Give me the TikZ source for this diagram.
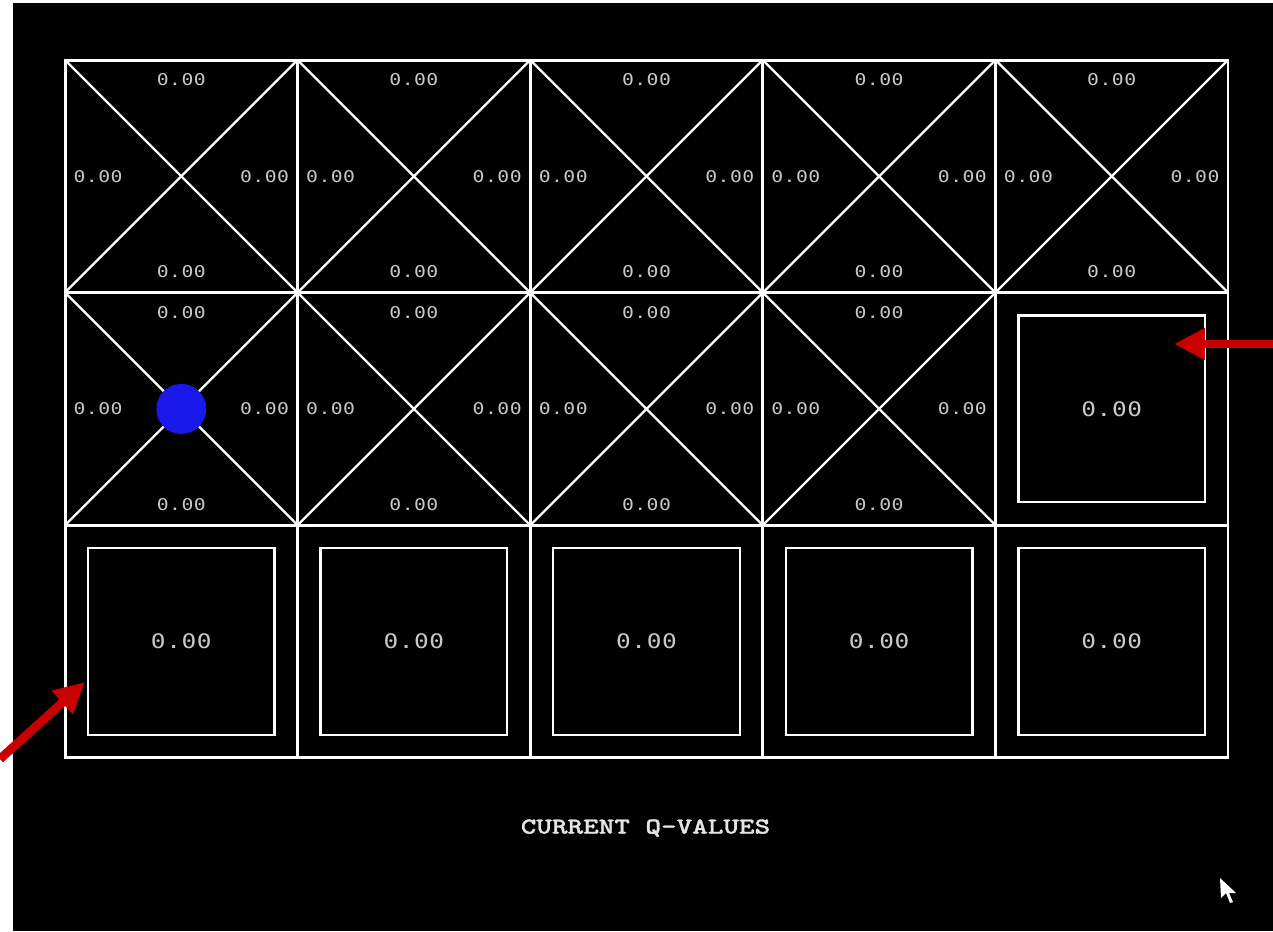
\documentclass[tikz,border=0pt]{standalone}
\usepackage{fontspec}
\usetikzlibrary{arrows.meta}
\newfontfamily\valfont[FakeStretch=1.22,LetterSpace=3]{DejaVu Sans Mono}
\newfontfamily\titrefont[Extension=.otf,FakeStretch=1.3,FakeBold=1.2]{lmmonolt10-bold}
\definecolor{valgris}{RGB}{200,200,200}
\definecolor{titregris}{RGB}{228,228,228}
\definecolor{flecherouge}{RGB}{200,0,0}
\definecolor{agentbleu}{RGB}{25,25,235}
\begin{document}
\begin{tikzpicture}[x=0.02cm,y=-0.02cm]
	% Styles
	\tikzstyle{cellule}=[draw=white,line width=1.7pt,minimum size=4.652cm,inner sep=0pt,outer sep=0pt]
	\tikzstyle{diag}=[white,line width=1.3pt]
	\tikzstyle{boite}=[draw=white,line width=1.4pt,minimum size=3.732cm,inner sep=0pt,text=valgris,font=\valfont\fontsize{11.4}{13}\selectfont]
	\tikzstyle{valeur}=[text=valgris,font=\valfont\fontsize{9.2}{11}\selectfont,inner sep=0pt]
	\tikzstyle{titre}=[text=titregris,font=\titrefont\fontsize{13}{15}\selectfont,inner sep=0pt]
	\tikzstyle{agent}=[circle,fill=agentbleu,minimum size=1cm,inner sep=0pt]
	\tikzstyle{fleche}=[-{Triangle[length=17.5pt,width=17pt]},draw=flecherouge,line width=5pt]
	% Dimensions
	\def\Gauche{65}
	\def\Haut{60}
	\def\Cote{232.6}
	% Fond
	\useasboundingbox (0,0) rectangle (1273,931);
	\fill[white] (0,0) rectangle (1273,931);
	\fill[black] (13,3) rectangle (1273,931);
	% Cases
	\foreach \r in {1,2,3}
	\foreach \c in {1,...,5}
	\node[cellule] (case\r\c) at ({\Gauche+(\c-0.5)*\Cote},{\Haut+(\r-0.5)*\Cote}) {};
	% Cases avec diagonales
	\foreach \cel in {11,12,13,14,15,21,22,23,24}{
		\draw[diag] (case\cel.north west)--(case\cel.south east);
		\draw[diag] (case\cel.north east)--(case\cel.south west);
		\node[valeur] (haut\cel) at ([shift={(0,20)}]case\cel.north) {0.00};
		\node[valeur] (bas\cel) at ([shift={(0,-21)}]case\cel.south) {0.00};
		\node[valeur] (gauche\cel) at ([shift={(33,0)}]case\cel.west) {0.00};
		\node[valeur] (droite\cel) at ([shift={(-33,0)}]case\cel.east) {0.00};
	}
	% Cases terminales
	\foreach \cel in {25,31,32,33,34,35}
	\node[boite] (boite\cel) at (case\cel) {0.00};
	% Agent
	\node[agent] (agent) at (case21) {};
	% Titre
	\node[titre] (titre) at (645.5,828) {CURRENT Q-VALUES};
	% Curseur
	\fill[white] (1220,878)--(1221,898)--(1226,893)--(1230,903)--(1233,902)--(1229,893)--(1236,893)--cycle;
	% Fleches
	\coordinate (queueG) at (0,759);
	\coordinate (pointeG) at (85,682);
	\coordinate (queueD) at (1273,344);
	\coordinate (pointeD) at (1174,344);
	\draw[fleche] (queueG)--(pointeG);
	\draw[fleche] (queueD)--(pointeD);
\end{tikzpicture}
\end{document}
